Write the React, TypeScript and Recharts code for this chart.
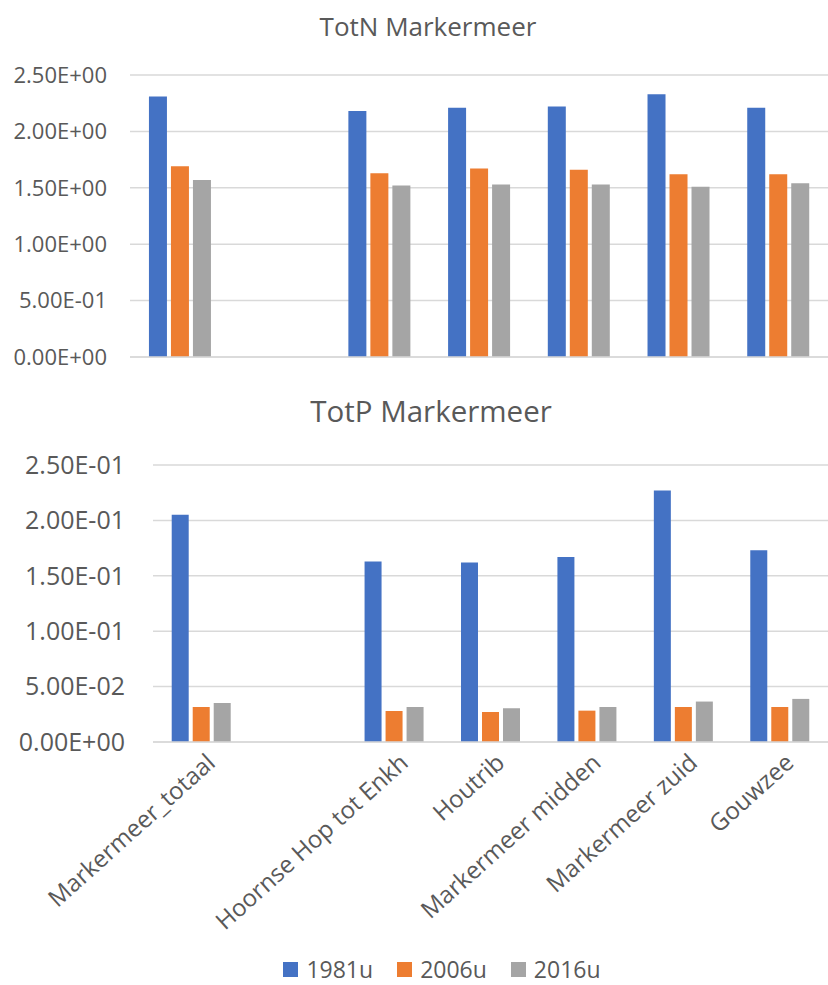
import React from 'react';
import { Bar, BarChart, CartesianGrid, Legend, XAxis, YAxis } from 'recharts';

const categories = [
  'Markermeer_totaal',
  '',
  'Hoornse Hop tot Enkh',
  'Houtrib',
  'Markermeer midden',
  'Markermeer zuid',
  'Gouwzee',
];

const totN1981 = [2.31, null, 2.18, 2.21, 2.22, 2.33, 2.21];
const totN2006 = [1.69, null, 1.63, 1.67, 1.66, 1.62, 1.62];
const totN2016 = [1.57, null, 1.52, 1.53, 1.53, 1.51, 1.54];

const totP1981 = [0.205, null, 0.163, 0.162, 0.167, 0.227, 0.173];
const totP2006 = [0.0316, null, 0.028, 0.0271, 0.0283, 0.0316, 0.0316];
const totP2016 = [0.0352, null, 0.0316, 0.0305, 0.0316, 0.0365, 0.0389];

const totNTicks = [0, 0.5, 1, 1.5, 2, 2.5];
const totPTicks = [0, 0.05, 0.1, 0.15, 0.2, 0.25];

const seriesNames = ['1981u', '2006u', '2016u'];
const colors = ['#4472C4', '#ED7D31', '#A5A5A5'];

const FONT = '"Open Sans", sans-serif';
const TEXT = '#595959';
const GRID = '#d9d9d9';

const totNData = categories.map((c, i) => ({
  name: c,
  key: `c${i}`,
  '1981u': totN1981[i],
  '2006u': totN2006[i],
  '2016u': totN2016[i],
}));

const totPData = categories.map((c, i) => ({
  name: c,
  key: `c${i}`,
  '1981u': totP1981[i],
  '2006u': totP2006[i],
  '2016u': totP2016[i],
}));

// excel style 2.50E+00
function sci(v: number) {
  const [m, e] = v.toExponential(2).split('e');
  const n = parseInt(e, 10);
  const sign = n < 0 ? '-' : '+';
  return `${m}E${sign}${String(Math.abs(n)).padStart(2, '0')}`;
}

const AngledTick = (props: any) => {
  const { x, y, payload } = props;
  const label = categories[payload.index] ?? '';
  return (
    <g transform={`translate(${x + 4},${y + 2})`}>
      <text
        textAnchor="end"
        transform="rotate(-42)"
        dy="0.72em"
        fill={TEXT}
        fontSize={24}
        fontFamily={FONT}
      >
        {label}
      </text>
    </g>
  );
};

const LegendContent = () => (
  <div
    style={{
      display: 'flex',
      justifyContent: 'center',
      alignItems: 'center',
      height: 32,
      fontFamily: FONT,
      fontSize: 23,
      color: TEXT,
      paddingLeft: 80,
    }}
  >
    {seriesNames.map((s, i) => (
      <div key={s} style={{ display: 'flex', alignItems: 'center', marginRight: 24 }}>
        <span
          style={{
            display: 'inline-block',
            width: 15,
            height: 15,
            background: colors[i],
            marginRight: 8,
          }}
        />
        <span>{s}</span>
      </div>
    ))}
  </div>
);

export default function App() {
  return (
    <div
      style={{
        position: 'absolute',
        left: 0,
        top: 0,
        width: 828,
        height: 985,
        background: '#fff',
        fontFamily: FONT,
      }}
    >
      <div
        style={{
          position: 'absolute',
          top: 8,
          left: 0,
          width: 856,
          textAlign: 'center',
          fontSize: 26,
          color: TEXT,
          lineHeight: '36px',
        }}
      >
        TotN Markermeer
      </div>
      <div style={{ position: 'absolute', top: 0, left: 0 }}>
        <BarChart
          width={828}
          height={380}
          data={totNData}
          margin={{ top: 75, right: 0, left: 0, bottom: 0 }}
          barCategoryGap="19%"
          barGap={4}
        >
          <CartesianGrid vertical={false} stroke={GRID} strokeWidth={1.5} />
          <XAxis
            dataKey="key"
            height={23}
            tick={false}
            tickLine={false}
            axisLine={{ stroke: GRID, strokeWidth: 1.5 }}
          />
          <YAxis
            width={130}
            domain={[0, 2.5]}
            ticks={totNTicks}
            tickFormatter={sci}
            axisLine={false}
            tickLine={false}
            tickSize={0}
            tickMargin={23}
            tick={{ fill: TEXT, fontSize: 22, fontFamily: FONT }}
          />
          {seriesNames.map((s, i) => (
            <Bar key={s} dataKey={s} fill={colors[i]} isAnimationActive={false} />
          ))}
        </BarChart>
      </div>

      <div
        style={{
          position: 'absolute',
          top: 391,
          left: 0,
          width: 862,
          textAlign: 'center',
          fontSize: 29.5,
          color: TEXT,
          lineHeight: '40px',
        }}
      >
        TotP Markermeer
      </div>
      <div style={{ position: 'absolute', top: 380, left: 0 }}>
        <BarChart
          width={828}
          height={605}
          data={totPData}
          margin={{ top: 85, right: 0, left: 0, bottom: 0 }}
          barCategoryGap="19.4%"
          barGap={4}
        >
          <CartesianGrid vertical={false} stroke={GRID} strokeWidth={1.5} />
          <XAxis
            dataKey="key"
            height={211}
            interval={0}
            tickLine={false}
            axisLine={{ stroke: GRID, strokeWidth: 1.5 }}
            tick={<AngledTick />}
          />
          <YAxis
            width={153}
            domain={[0, 0.25]}
            ticks={totPTicks}
            tickFormatter={sci}
            axisLine={false}
            tickLine={false}
            tickSize={0}
            tickMargin={28}
            tick={{ fill: TEXT, fontSize: 25, fontFamily: FONT }}
          />
          <Legend verticalAlign="bottom" content={<LegendContent />} />
          {seriesNames.map((s, i) => (
            <Bar key={s} dataKey={s} fill={colors[i]} isAnimationActive={false} />
          ))}
        </BarChart>
      </div>
    </div>
  );
}
